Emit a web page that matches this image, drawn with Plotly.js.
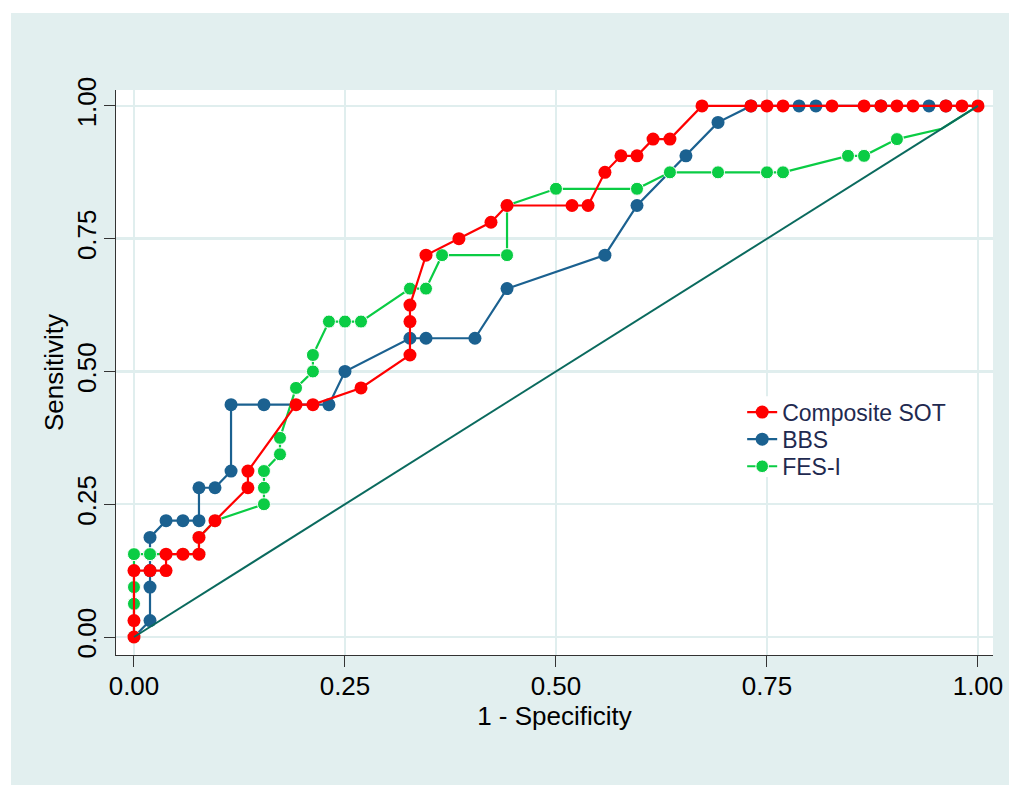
<!DOCTYPE html>
<html>
<head>
<meta charset="utf-8">
<script src="https://cdn.plot.ly/plotly-3.0.1.min.js"></script>
<style>
html, body { margin: 0; padding: 0; background: #ffffff; width: 1009px; height: 785px; overflow: hidden; }
#chart { position: absolute; left: 11px; top: 13px; width: 998px; height: 772px; }
</style>
</head>
<body>
<div id="chart"></div>
<script>
// Composite SOT
var sotX = [0, 0, 0, 0.019, 0.038, 0.038, 0.058, 0.077, 0.077, 0.096, 0.135, 0.135, 0.192, 0.212, 0.269,
            0.327, 0.327, 0.327, 0.346, 0.385, 0.423, 0.442, 0.519, 0.538, 0.558, 0.577, 0.596, 0.615, 0.635,
            0.673, 0.731, 0.75, 0.769, 0.827, 0.865, 0.885, 0.904, 0.923, 0.962, 0.981, 1];
var sotY = [0, 0.031, 0.125, 0.125, 0.125, 0.156, 0.156, 0.156, 0.1875, 0.219, 0.281, 0.3125, 0.4375, 0.4375, 0.469,
            0.531, 0.594, 0.625, 0.719, 0.75, 0.781, 0.8125, 0.8125, 0.8125, 0.875, 0.906, 0.906, 0.9375, 0.9375,
            1, 1, 1, 1, 1, 1, 1, 1, 1, 1, 1, 1];
// BBS
var bbsX = [0, 0.019, 0.019, 0.019, 0.019, 0.019, 0.038, 0.058, 0.077, 0.077, 0.096, 0.115, 0.115, 0.154, 0.231,
            0.25, 0.327, 0.346, 0.404, 0.442, 0.558, 0.596, 0.654, 0.692, 0.731, 0.788, 0.808, 0.885, 0.942, 0.962, 1];
var bbsY = [0, 0.031, 0.094, 0.125, 0.156, 0.1875, 0.219, 0.219, 0.219, 0.281, 0.281, 0.3125, 0.4375, 0.4375, 0.4375,
            0.5, 0.5625, 0.5625, 0.5625, 0.656, 0.719, 0.8125, 0.906, 0.969, 1, 1, 1, 1, 1, 1, 1];
// FES-I
var fesX = [0, 0, 0, 0, 0.019, 0.058, 0.077, 0.077, 0.096, 0.154, 0.154, 0.154, 0.173, 0.173, 0.192, 0.212, 0.212,
            0.231, 0.25, 0.269, 0.327, 0.346, 0.365, 0.442, 0.442, 0.5, 0.596, 0.635, 0.692, 0.75, 0.769,
            0.846, 0.865, 0.904, 0.957, 1];
var fesY = [0, 0.0625, 0.094, 0.156, 0.156, 0.156, 0.156, 0.1875, 0.219, 0.25, 0.281, 0.3125, 0.344, 0.375, 0.469, 0.5, 0.531,
            0.594, 0.594, 0.594, 0.656, 0.656, 0.719, 0.719, 0.8125, 0.844, 0.844, 0.875, 0.875, 0.875, 0.875,
            0.906, 0.906, 0.9375, 0.957, 1];
// Reference line
var refX = [0, 1];
var refY = [0, 1];

var tickVals = [0, 0.25, 0.5, 0.75, 1];
var tickText = ["0.00", "0.25", "0.50", "0.75", "1.00"];

var seriesNames = ["Composite SOT", "BBS", "FES-I"];

var MS = 13;
var fesSizes = fesX.map(function (v, i) { return i === fesX.length - 2 ? 0 : MS; });

var cRed = '#ff0000', cBlue = '#1b6190', cGreen = '#0acc44', cRef = '#0a6a5e';

var traces = [
  { x: bbsX, y: bbsY, name: seriesNames[1], legend: 'legend2', type: 'scatter', mode: 'lines+markers',
    line: { color: cBlue, width: 2.2 }, marker: { color: cBlue, size: MS, opacity: 1 } },
  { x: fesX, y: fesY, name: seriesNames[2], legend: 'legend3', type: 'scatter', mode: 'lines+markers',
    line: { color: cGreen, width: 2.2 }, marker: { color: cGreen, size: fesSizes, opacity: 1 } },
  { x: sotX, y: sotY, name: seriesNames[0], legend: 'legend', type: 'scatter', mode: 'lines+markers',
    line: { color: cRed, width: 2.2 }, marker: { color: cRed, size: MS, opacity: 1 } },
  { x: refX, y: refY, showlegend: false, type: 'scatter', mode: 'lines',
    line: { color: cRef, width: 2 }, hoverinfo: 'skip' }
];

var font = "'Liberation Sans', Arial, sans-serif";
var legFont = { family: font, size: 23, color: '#1f2a50' };
function leg(y) {
  return { x: 0.714, y: y, xanchor: 'left', yanchor: 'top', bgcolor: 'rgba(0,0,0,0)', borderwidth: 0, font: legFont };
}

var layout = {
  width: 998, height: 772,
  paper_bgcolor: '#e2efef',
  plot_bgcolor: '#ffffff',
  margin: { l: 105, r: 16, t: 77, b: 130 },
  font: { family: font, color: '#000000' },
  showlegend: true,
  legend: leg(0.468),
  legend2: leg(0.420),
  legend3: leg(0.372),
  shapes: [
    { type: 'rect', xref: 'paper', yref: 'paper', x0: 0.689, x1: 0.958, y0: 0.315, y1: 0.458,
      fillcolor: '#ffffff', line: { width: 0 }, layer: 'above' }
  ],
  xaxis: {
    range: [-0.0213, 1.0178],
    tickmode: 'array', tickvals: tickVals, ticktext: tickText,
    ticks: 'outside', ticklen: 11, tickwidth: 1, tickcolor: '#333333',
    ticklabelstandoff: -3,
    tickfont: { family: font, size: 26, color: '#000000' },
    showgrid: true, gridcolor: '#e0eeee', gridwidth: 2.5,
    zeroline: false,
    showline: true, linecolor: '#333333', linewidth: 1,
    title: { text: '1 - Specificity', font: { family: font, size: 26, color: '#000000' }, standoff: 0 }
  },
  yaxis: {
    range: [-0.0339, 1.030],
    tickmode: 'array', tickvals: tickVals, ticktext: tickText,
    tickangle: -90,
    ticks: 'outside', ticklen: 11, tickwidth: 1, tickcolor: '#333333',
    ticklabelstandoff: -2,
    tickfont: { family: font, size: 26, color: '#000000' },
    showgrid: true, gridcolor: '#e0eeee', gridwidth: 2.5,
    zeroline: false,
    showline: true, linecolor: '#333333', linewidth: 1,
    title: { text: 'Sensitivity', font: { family: font, size: 26, color: '#000000' }, standoff: 0 }
  }
};

Plotly.newPlot('chart', traces, layout, { displayModeBar: false, staticPlot: true });
</script>
</body>
</html>
